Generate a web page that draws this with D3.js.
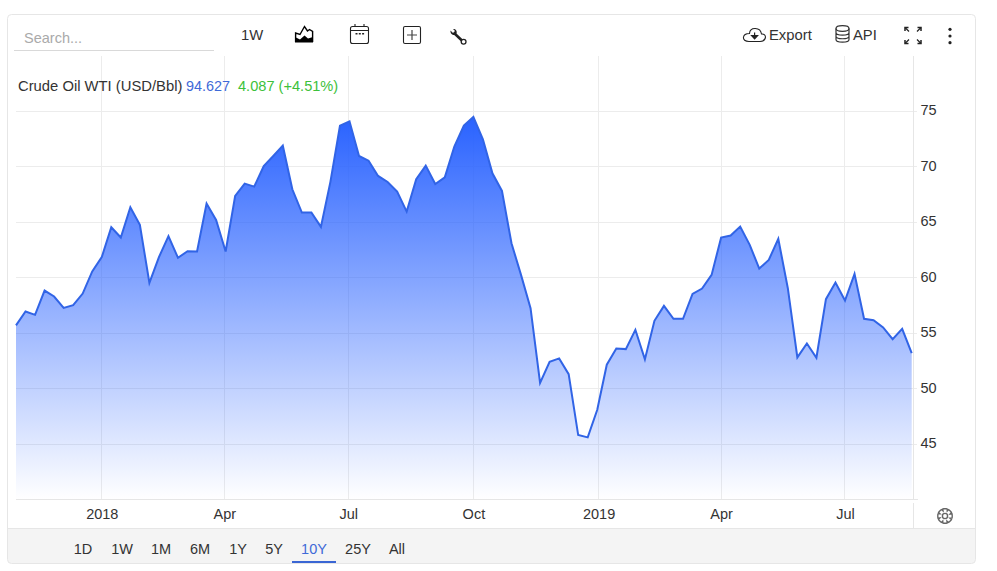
<!DOCTYPE html>
<html><head><meta charset="utf-8">
<script src="https://cdn.jsdelivr.net/npm/d3@7/dist/d3.min.js"></script>
<style>html,body{margin:0;padding:0;background:#fff;overflow:hidden}svg{display:block}text{font-family:"Liberation Sans",Arial,sans-serif}</style>
</head><body><svg id="c" width="997" height="571"></svg>
<script>
const dates=["2017-10-30","2017-11-06","2017-11-13","2017-11-20","2017-11-27","2017-12-04","2017-12-11","2017-12-18","2017-12-25","2018-01-01","2018-01-08","2018-01-15","2018-01-22","2018-01-29","2018-02-05","2018-02-12","2018-02-19","2018-02-26","2018-03-05","2018-03-12","2018-03-19","2018-03-26","2018-04-02","2018-04-09","2018-04-16","2018-04-23","2018-04-30","2018-05-07","2018-05-14","2018-05-21","2018-05-28","2018-06-04","2018-06-11","2018-06-18","2018-06-25","2018-07-02","2018-07-09","2018-07-16","2018-07-23","2018-07-30","2018-08-06","2018-08-13","2018-08-20","2018-08-27","2018-09-03","2018-09-10","2018-09-17","2018-09-24","2018-10-01","2018-10-08","2018-10-15","2018-10-22","2018-10-29","2018-11-05","2018-11-12","2018-11-19","2018-11-26","2018-12-03","2018-12-10","2018-12-17","2018-12-24","2018-12-31","2019-01-07","2019-01-14","2019-01-21","2019-01-28","2019-02-04","2019-02-11","2019-02-18","2019-02-25","2019-03-04","2019-03-11","2019-03-18","2019-03-25","2019-04-01","2019-04-08","2019-04-15","2019-04-22","2019-04-29","2019-05-06","2019-05-13","2019-05-20","2019-05-27","2019-06-03","2019-06-10","2019-06-17","2019-06-24","2019-07-01","2019-07-08","2019-07-15","2019-07-22","2019-07-29","2019-08-05","2019-08-12","2019-08-19"];
const prices=[55.7,56.95,56.65,58.84,58.3,57.28,57.52,58.57,60.56,61.85,64.55,63.62,66.35,64.76,59.53,61.85,63.74,61.79,62.39,62.36,66.68,65.21,62.36,67.37,68.48,68.21,70.07,70.97,71.9,67.97,65.87,65.87,64.58,68.66,73.71,74.1,70.97,70.55,69.17,68.63,67.76,65.96,68.87,70.1,68.45,69.05,71.82,73.71,74.49,72.48,69.41,67.82,63.1,60.25,57.25,50.52,52.42,52.72,51.3,45.81,45.6,48.09,52.15,53.62,53.56,55.3,52.63,56.11,57.46,56.29,56.29,58.54,59.02,60.25,63.62,63.8,64.61,62.96,60.82,61.6,63.5,59.05,52.81,54.07,52.78,58.06,59.56,57.94,60.34,56.29,56.17,55.51,54.46,55.39,53.2];
const yTicks=[45,50,55,60,65,70,75];
const xTickDates=["2018-01-01","2018-04-01","2018-07-01","2018-10-01","2019-01-01","2019-04-01","2019-07-01"];
const xTickLabels=["2018","Apr","Jul","Oct","2019","Apr","Jul"];
const ranges=["1D","1W","1M","6M","1Y","5Y","10Y","25Y","All"];
const activeRange="10Y";
const seriesName="Crude Oil WTI (USD/Bbl)",lastValue="94.627",change="4.087 (+4.51%)";

const pd=d3.utcParse("%Y-%m-%d");
const svg=d3.select("#c");
const L=16,R=911.7,T=56,B=499.5,AX=913.5;
const x=d3.scaleUtc().domain([pd(dates[0]),pd(dates[dates.length-1])]).range([L,R]);
const y=d3.scaleLinear().domain([40,75]).range([B,111.3]);
const gridC="#ececec",ink="#333",lineC="#e6e6e6";
const font='"Liberation Sans"';

// frame
const defs=svg.append("defs");
const g=defs.append("linearGradient").attr("id","fade").attr("x1",0).attr("x2",0).attr("y1",0).attr("y2",1);
g.append("stop").attr("offset",0).attr("stop-color","#2962ff").attr("stop-opacity",1);
g.append("stop").attr("offset",1).attr("stop-color","#2962ff").attr("stop-opacity",0);
defs.append("clipPath").attr("id","card").append("rect").attr("x",7.5).attr("y",14.5).attr("width",968).attr("height",549).attr("rx",4);
svg.append("rect").attr("x",7.5).attr("y",528.5).attr("width",968).attr("height",35).attr("fill","#f4f4f4").attr("clip-path","url(#card)");
svg.append("line").attr("x1",7.5).attr("x2",975.5).attr("y1",528.5).attr("y2",528.5).attr("stroke",lineC);
svg.append("rect").attr("x",7.5).attr("y",14.5).attr("width",968).attr("height",549).attr("rx",4).attr("fill","none").attr("stroke",lineC);

// grid
svg.append("g").selectAll("line").data(yTicks).join("line")
  .attr("x1",L).attr("x2",917).attr("y1",d=>Math.floor(y(d))+0.5).attr("y2",d=>Math.floor(y(d))+0.5).attr("stroke",gridC);
svg.append("g").selectAll("line").data(xTickDates).join("line")
  .attr("x1",d=>Math.floor(x(pd(d)))+0.5).attr("x2",d=>Math.floor(x(pd(d)))+0.5).attr("y1",T).attr("y2",B).attr("stroke",gridC);
svg.append("line").attr("x1",L).attr("x2",918).attr("y1",B).attr("y2",B).attr("stroke",lineC);
svg.append("line").attr("x1",AX).attr("x2",AX).attr("y1",T).attr("y2",B).attr("stroke",lineC);
svg.append("line").attr("x1",AX).attr("x2",AX).attr("y1",503).attr("y2",528).attr("stroke",lineC);

// axes
const gy=svg.append("g").attr("transform",`translate(${AX},0)`).call(d3.axisRight(y).tickValues(yTicks).tickSize(0).tickPadding(7));
gy.select(".domain").remove();
gy.selectAll("text").attr("font-size",14.5).attr("fill",ink).attr("dy","0.25em").style("font-family",font);

// series
const pts=dates.map((d,i)=>({d:pd(d),v:prices[i]}));
svg.append("path").datum(pts).attr("fill","url(#fade)").attr("d",d3.area().x(p=>x(p.d)).y0(B).y1(p=>y(p.v)));
svg.append("path").datum(pts).attr("fill","none").attr("stroke","#3164e6").attr("stroke-width",2).attr("d",d3.line().x(p=>x(p.d)).y(p=>y(p.v)));

const gx=svg.append("g").attr("transform",`translate(0,${B})`).call(d3.axisBottom(x).tickValues(xTickDates.map(pd)).tickSize(0).tickPadding(9.5).tickFormat((d,i)=>xTickLabels[i]));
gx.select(".domain").remove();
gx.selectAll("text").attr("font-size",14.5).attr("fill",ink).style("font-family",font);

// legend
const t=svg.append("text").attr("x",18).attr("y",91).attr("font-size",14.8);
t.append("tspan").attr("fill",ink).text(seriesName);
t.append("tspan").attr("x",186).attr("font-size",14.4).attr("fill","#3f6ad8").text(lastValue);
t.append("tspan").attr("x",238).attr("font-size",14.6).attr("fill","#3cc13b").text(change);

// toolbar text
svg.append("text").attr("x",24).attr("y",43).attr("font-size",14.5).attr("fill","#aaa").text("Search...");
svg.append("line").attr("x1",14).attr("x2",214).attr("y1",50.5).attr("y2",50.5).attr("stroke","#d9d9d9");
svg.append("text").attr("x",241).attr("y",40).attr("font-size",14.8).attr("fill",ink).text("1W");
svg.append("text").attr("x",769).attr("y",40).attr("font-size",14.8).attr("fill",ink).text("Export");
svg.append("text").attr("x",853).attr("y",40).attr("font-size",14.8).attr("fill",ink).text("API");

// icons
const icon=(d,o={})=>svg.append("path").attr("d",d).attr("fill",o.fill||"none").attr("stroke",o.stroke||"none").attr("stroke-width",o.w||1.2).attr("stroke-linecap",o.cap||"butt");
icon("M295 42.5V37L300 39.5 304.5 35.5 308 38.5 313 37V42.5Z",{fill:"#000"});
icon("M295.6 42V33L300 34.5 304.5 26.5 307.5 31 309.5 29.5 312.6 31.5V42",{stroke:"#000",w:1.4});
svg.append("rect").attr("x",350.5).attr("y",26.5).attr("width",18).attr("height",17).attr("rx",2).attr("fill","none").attr("stroke","#222").attr("stroke-width",1.1);
icon("M350.5 30.5H368.5M355 24V27M364 24V27",{stroke:"#222",w:1.1});
icon("M355.5 33.8H357.5M358.8 33.8H360.8M362.1 33.8H364.1",{stroke:"#222",w:1.6});
svg.append("rect").attr("x",403.5).attr("y",26.5).attr("width",17).attr("height",17).attr("rx",1.5).attr("fill","none").attr("stroke","#222").attr("stroke-width",1.1);
icon("M407 35H417M412 30V40",{stroke:"#444",w:1.2});
icon("M454 33L463 41.5",{stroke:"#222",w:2.6});
icon("M450.5 30.5L453 33 455 31 453 29C455.5 28.4 457.5 31 456.5 33.5L455 35C452.5 35.5 450 33.5 450.5 30.5Z",{fill:"#222"});
svg.append("circle").attr("cx",463.6).attr("cy",41.8).attr("r",2.4).attr("fill","#fff").attr("stroke","#222").attr("stroke-width",1.3);
icon("M749 41.5H760C767 41 767 33.5 761.5 34C760.5 27 750 26.5 749.5 33.5C742 33.5 741 41.5 749 41.5Z",{stroke:"#222",w:1.1,fill:"#fff"});
icon("M754.6 32.5V36.5M751.6 35.5L754.6 38.8 757.6 35.5Z",{stroke:"#222",fill:"#222",w:1.2});
svg.append("ellipse").attr("cx",842.5).attr("cy",28.5).attr("rx",6.5).attr("ry",2.8).attr("fill","none").attr("stroke","#333").attr("stroke-width",1.2);
icon("M836 28.5V39.5C836 43 849 43 849 39.5V28.5M836 32.5C836 36 849 36 849 32.5M836 36.2C836 39.6 849 39.6 849 36.2",{stroke:"#333",w:1.2});
icon("M905 27.5L909 31.5M921 27.5L917 31.5M905 43.5L909 39.5M921 43.5L917 39.5",{stroke:"#222",w:1.2});
icon("M905 31V27.5H908.5M917.5 27.5H921V31M905 40V43.5H908.5M917.5 43.5H921V40",{stroke:"#222",w:1.5});
svg.append("g").selectAll("circle").data([29.3,36,42.7]).join("circle").attr("cx",950).attr("cy",d=>d).attr("r",1.6).attr("fill","#222");

// settings gear
const gear=svg.append("g").attr("transform","translate(945,516)");
const gearR=d3.range(0,8).flatMap(i=>{const a=i*Math.PI/4;return [[a-0.3,7.3],[a-0.17,7.3],[a+0.17,7.3],[a+0.3,7.3],[a+0.42,5.5]];});
gear.append("path").attr("d",d3.lineRadial().angle(d=>d[0]).radius(d=>d[1]).curve(d3.curveLinearClosed)(gearR)).attr("fill","none").attr("stroke","#666").attr("stroke-width",1.4);
gear.append("circle").attr("r",2.6).attr("fill","none").attr("stroke","#666").attr("stroke-width",1.4);

// range bar
const rangeX={"1D":83,"1W":122,"1M":161,"6M":200,"1Y":238,"5Y":274,"10Y":314,"25Y":358,"All":397};
svg.append("g").selectAll("text").data(ranges).join("text")
  .attr("x",d=>rangeX[d]).attr("y",554).attr("text-anchor","middle").attr("font-size",14.5)
  .attr("fill",d=>d===activeRange?"#3f6ad8":ink).text(d=>d);
svg.append("line").attr("x1",292).attr("x2",336).attr("y1",562).attr("y2",562).attr("stroke","#3a66d4").attr("stroke-width",2);
</script></body></html>
